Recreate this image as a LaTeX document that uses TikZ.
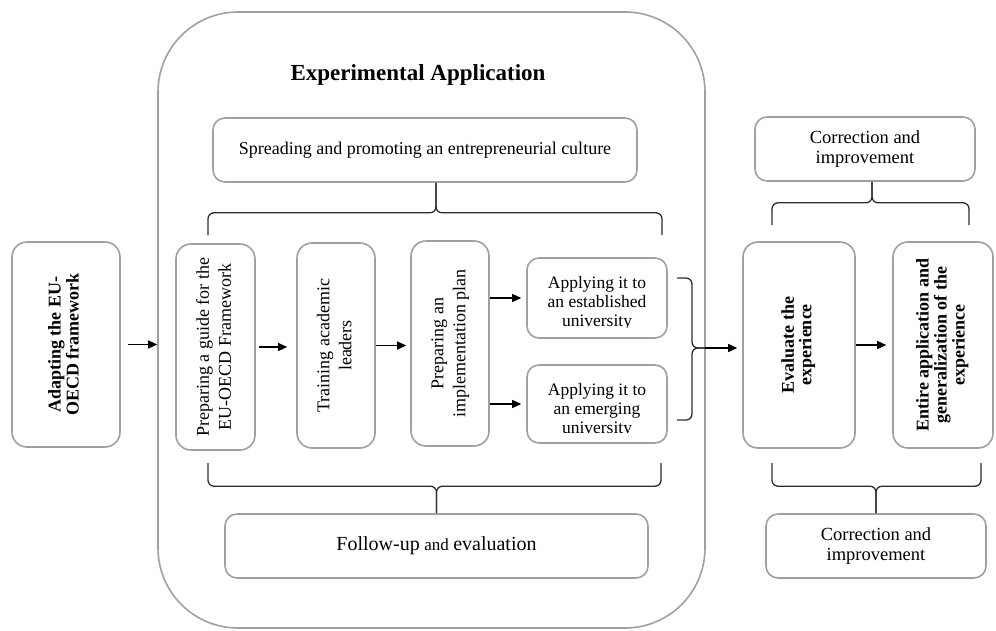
\documentclass[tikz,border=0pt]{standalone}
\usepackage{fontspec}
\setmainfont{Liberation Serif}
\usetikzlibrary{arrows.meta,calc}
\definecolor{bgray}{RGB}{160,160,160}
\definecolor{lcol}{RGB}{45,45,45}
\newcommand{\fs}[2]{\fontsize{#1}{#2}\selectfont}
\newcommand{\rtext}[1]{\rotatebox{90}{\begin{tabular}{@{}c@{}}#1\end{tabular}}}
\begin{document}
\begin{tikzpicture}[x=1pt,y=-1pt,
  box/.style={draw=bgray, line width=1.6pt, rounded corners=12pt, inner sep=0pt, align=center, font=\fs{18}{20}},
  bigbox/.style={box, rounded corners=15pt},
  arr/.style={draw=black, line width=1.3pt, -{Triangle[length=9pt,width=8pt]}},
  brace/.style={draw=lcol, line width=1.3pt, rounded corners=6pt},
]
\useasboundingbox (0,0) rectangle (996,630);
% container
\node[draw=bgray, line width=1.6pt, rounded corners=80pt, minimum width=547pt, minimum height=616pt, inner sep=0pt] (cont) at (431.5,320) {};
\node[font=\bfseries\fs{23}{26}] (title) at (418,75) {Experimental Application};
\node[box, minimum width=424pt, minimum height=64pt] (spread) at (425,150) {Spreading and promoting an entrepreneurial culture};
% left box
\node[bigbox, minimum width=108pt, minimum height=205pt, font=\bfseries\fs{18}{18}] (adapt) at (66,344.5) {\rtext{Adapting the EU-\\OECD framework}};
% inner boxes
\node[bigbox, minimum width=79pt, minimum height=206pt, font=\fs{18}{22}] (guide) at (215.5,347) {\rtext{Preparing a guide for the\\EU-OECD Framework}};
\node[bigbox, minimum width=78pt, minimum height=205pt, font=\fs{18}{22}] (train) at (336,345.5) {\rtext{Training academic\\leaders}};
\node[bigbox, minimum width=78pt, minimum height=205pt, font=\fs{18}{22}] (plan) at (450,343.5) {\rtext{Preparing an\\implementation plan}};
\node[box, minimum width=140pt, minimum height=80pt] (est) at (597,298) {};
\node[box, minimum width=140pt, minimum height=78pt] (emg) at (597,404) {};
\begin{scope}
\clip ([yshift=11pt]est.south west) rectangle (est.north east);
\node[anchor=north, align=center, inner sep=0pt, font=\fs{17.5}{19}] (estt) at ([yshift=-19pt]est.north) {Applying it to\\an established\\university};
\end{scope}
\begin{scope}
\clip ([yshift=11pt]emg.south west) rectangle (emg.north east);
\node[anchor=north, align=center, inner sep=0pt, font=\fs{17.5}{19}] (emgt) at ([yshift=-19pt]emg.north) {Applying it to\\an emerging\\university};
\end{scope}
\node[box, minimum width=423pt, minimum height=64pt] (follow) at (436.5,546) {{\fs{20}{22}Follow-up} {\fs{17}{20}and} {\fs{20}{22}evaluation}};
% right side
\node[bigbox, minimum width=112pt, minimum height=206pt, font=\bfseries\fs{18}{17}] (eval) at (799,345) {\rtext{Evaluate the\\experience}};
\node[bigbox, minimum width=100pt, minimum height=206pt, font=\bfseries\fs{18}{18}] (entire) at (943,345) {\rtext{Entire application and\\generalization of the\\experience}};
\node[box, minimum width=220pt, minimum height=64pt, font=\fs{18.5}{20}] (corr1) at (865,149) {Correction and\\improvement};
\node[box, minimum width=220pt, minimum height=64pt, font=\fs{18.5}{20}] (corr2) at (876,546) {Correction and\\improvement};
% arrows
\draw[arr, shorten <=7pt] (adapt.east) -- (adapt.east -| cont.west);
\draw[arr, shorten <=3pt, shorten >=9pt] (guide.east) -- (guide.east -| train.west);
\draw[arr, shorten >=4pt] (train.east) -- (train.east -| plan.west);
\draw[arr, shorten >=5pt] (plan.east |- est.west) -- (est.west);
\draw[arr, shorten >=5pt] (plan.east |- emg.west) -- (emg.west);
\coordinate (tipR) at (705,348);
\draw[arr, shorten >=5pt] (tipR) -- (tipR -| eval.west);
\draw[arr, shorten >=6pt] (eval.east) -- (eval.east -| entire.west);
% braces
\coordinate (rbT) at (677,278);
\coordinate (rbB) at (677,420);
\draw[brace] (rbT) -| ($(tipR)+(-13,0)$) -- (tipR);
\draw[brace] (rbB) -| ($(tipR)+(-13,0)$) -- (tipR);
\coordinate (tbL) at (208,235);
\coordinate (tbR) at (662,235);
\draw[brace] (tbL) |- ($(spread.south)+(11,30)$) -- ($(spread.south)+(11,0)$);
\draw[brace] (tbR) |- ($(spread.south)+(11,30)$) -- ($(spread.south)+(11,0)$);
\coordinate (bbL) at (208,463);
\coordinate (bbR) at (661,463);
\draw[brace] (bbL) |- ($(follow.north)+(0,-27)$) -- (follow.north);
\draw[brace] (bbR) |- ($(follow.north)+(0,-27)$) -- (follow.north);
\coordinate (c1L) at (772,225);
\coordinate (c1R) at (969,225);
\draw[brace] (c1L) |- ($(corr1.south)+(7,21)$) -- ($(corr1.south)+(7,0)$);
\draw[brace] (c1R) |- ($(corr1.south)+(7,21)$) -- ($(corr1.south)+(7,0)$);
\coordinate (c2L) at (772,463);
\coordinate (c2R) at (981,463);
\draw[brace] (c2L) |- ($(corr2.north)+(0,-27)$) -- (corr2.north);
\draw[brace] (c2R) |- ($(corr2.north)+(0,-27)$) -- (corr2.north);
\end{tikzpicture}
\end{document}
